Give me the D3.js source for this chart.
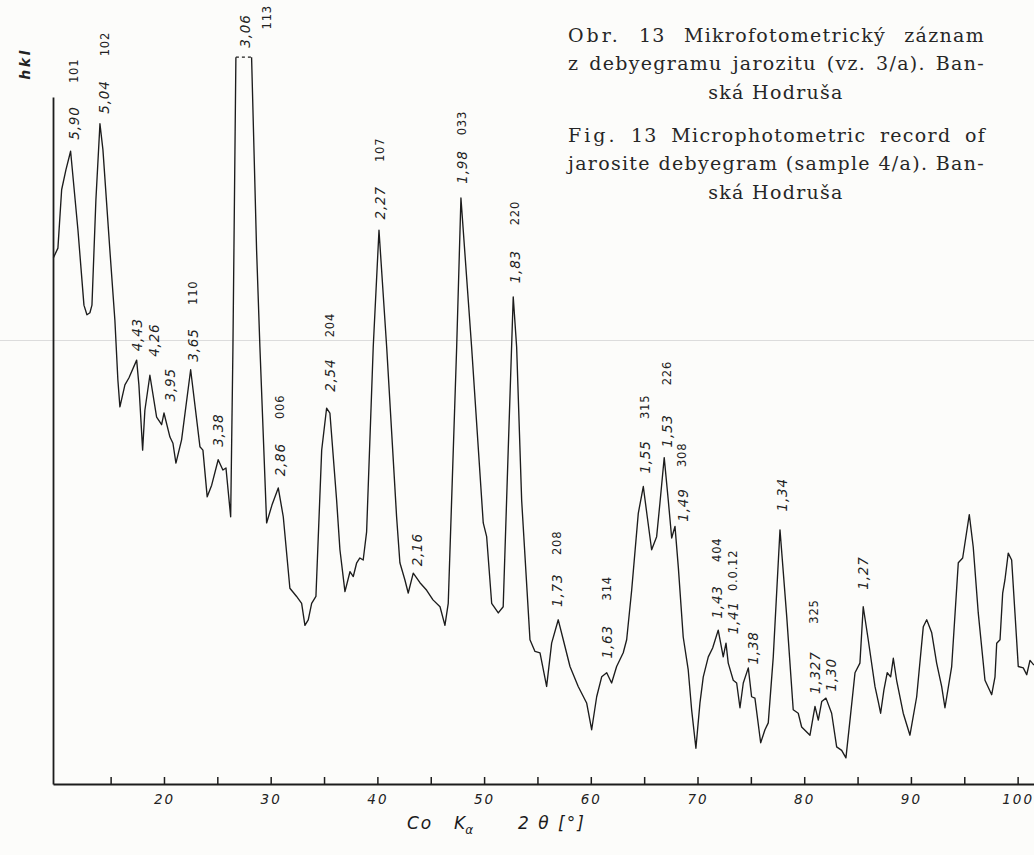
<!DOCTYPE html>
<html>
<head>
<meta charset="utf-8">
<script src="https://cdn.jsdelivr.net/npm/d3@7"></script>
<style>
  html, body { margin: 0; padding: 0; background: #fcfcfa; }
  svg { display: block; }
</style>
</head>
<body>
<svg id="chart" width="1034" height="855"></svg>
<script>
// ---- Data (read from the microphotometric record) ----
// 2θ positions (degrees, Co Kα)
const theta = [9.64,10.06,10.41,10.81,11.25,11.94,12.50,12.78,13.06,13.25,
  13.62,14.00,14.28,14.93,15.40,15.68,15.87,16.34,16.71,17.44,
  17.65,18.00,18.21,18.68,19.31,19.78,20.00,20.56,20.84,21.12,
  21.65,22.50,23.37,23.65,24.05,24.47,25.08,25.52,25.81,26.25,
  26.46,26.74,28.21,28.68,28.99,29.62,30.12,30.71,31.18,31.80,
  32.43,32.90,33.21,33.52,33.84,34.24,34.78,35.24,35.55,36.18,
  36.49,36.96,37.43,37.74,38.06,38.36,38.67,38.99,39.61,40.15,
  40.87,41.80,42.11,42.58,42.89,43.36,43.99,44.62,45.21,45.87,
  46.33,46.64,47.43,47.83,48.83,49.92,50.24,50.71,51.33,51.79,
  52.26,52.73,53.05,53.52,54.30,54.77,55.24,55.86,56.33,56.95,
  57.42,58.05,58.82,59.61,60.08,60.55,61.02,61.49,61.95,62.42,
  63.04,63.36,63.83,64.45,64.92,65.29,65.70,66.17,66.48,66.88,
  67.26,67.58,67.89,68.20,68.66,69.13,69.45,69.85,70.23,70.54,
  71.01,71.42,71.94,72.41,72.67,72.88,73.35,73.67,73.98,74.29,
  74.76,75.07,75.38,75.92,76.32,76.63,77.10,77.73,78.36,78.97,
  79.44,79.76,80.54,81.01,81.32,81.64,82.04,82.57,83.04,83.51,
  83.91,84.29,84.76,85.22,85.53,86.00,86.63,86.94,87.16,87.47,
  87.78,88.10,88.35,88.66,89.28,89.91,90.54,91.16,91.48,91.95,
  92.41,92.88,93.19,93.82,94.44,94.85,95.47,95.84,96.31,96.94,
  97.57,97.88,98.04,98.35,98.60,98.81,99.12,99.44,99.75,100.06,
  100.53,100.85,101.16,101.53];

// recorded blackening (arbitrary units)
const intensity = [76.6,78.0,86.5,89.4,92.1,80.6,69.7,68.3,68.6,69.7,
  85.0,96.1,92.3,77.7,67.5,58.8,54.9,58.1,59.1,61.7,
  58.1,48.6,54.4,59.5,53.4,52.3,54.0,50.5,49.6,46.7,
  50.1,60.3,49.1,48.6,41.8,43.5,47.2,45.7,46.0,38.9,
  63.2,105.8,105.8,77.7,63.6,38.0,40.6,43.1,38.9,28.5,
  27.3,26.3,23.1,23.9,26.3,27.3,48.6,54.7,54.0,41.3,
  34.1,28.0,30.9,30.2,32.2,32.9,32.6,36.7,63.6,80.6,
  63.6,38.9,32.2,29.7,27.8,30.7,29.3,28.2,26.8,25.8,
  23.1,26.3,63.6,85.3,63.6,38.0,36.0,26.3,24.9,25.8,
  48.6,70.9,63.6,41.3,21.0,19.3,19.1,14.2,20.5,23.9,
  21.0,17.1,14.2,11.8,7.9,12.7,15.6,16.2,14.7,17.1,
  19.1,21.0,28.2,39.4,43.3,38.9,34.1,36.0,40.9,47.5,
  41.3,35.8,37.5,31.6,21.4,16.6,10.8,5.2,11.8,15.6,
  18.5,19.8,22.4,18.5,20.5,17.6,15.1,14.7,11.1,14.7,
  16.9,12.7,12.5,6.0,7.9,8.9,18.5,37.0,24.4,10.8,
  10.3,8.3,7.1,11.3,9.3,12.0,12.5,10.3,5.4,4.9,
  3.8,9.3,16.2,17.6,25.8,21.0,14.2,12.0,10.3,13.7,
  16.2,15.6,18.3,15.1,10.3,7.1,12.7,22.9,23.9,22.0,
  17.6,14.2,11.1,17.1,32.2,32.9,39.2,34.5,24.9,15.1,
  13.0,15.6,20.5,21.0,27.8,29.7,33.6,32.6,24.9,17.1,
  16.9,15.9,18.0,17.3];

// level where the strongest reflection (3,06) runs off the record
const clipLevel = 105.8;

// x axis ticks
const tickValues = [15,20,25,30,35,40,45,50,55,60,65,70,75,80,85,90,95,100];
const tickLabels = [20,30,40,50,60,70,80,90,100];

// d-spacing annotations (Å): text, 2θ, label level
const dLabels = ["5,90","5,04","4,43","4,26","3,95","3,65","3,38","3,06","2,86","2,54","2,27","2,16","1,98","1,83","1,73","1,63","1,55","1,53","1,49","1,43","1,41","1,38","1,34","1,327","1,30","1,27"];
const dTheta  = [11.56,14.37,17.49,19.06,20.56,22.69,25.08,27.59,30.87,35.55,40.24,43.68,47.90,52.89,56.80,61.49,65.06,67.13,68.66,71.79,73.35,75.23,77.89,81.01,82.51,85.53];
const dLevel  = [96.2,100.0,65.4,64.6,58.1,63.9,51.5,109.6,47.2,59.5,84.6,34.1,89.8,75.3,28.2,20.7,47.6,51.4,40.6,26.5,24.2,19.8,42.1,16.2,15.9,30.7];

// hkl indices
const hklLabels = ["101","102","110","113","006","204","107","033","220","208","314","315","226","308","404","0.0.12","325"];
const hklTheta  = [11.56,14.47,22.74,29.65,30.87,35.55,40.24,47.90,52.89,56.80,61.49,65.06,67.13,68.56,71.79,73.35,80.92];
const hklLevel  = [103.8,107.7,71.5,111.6,54.9,66.8,92.3,96.2,83.1,35.1,28.5,54.9,59.8,47.9,34.1,31.1,25.1];

// caption
const captionCz = ["Obr. 13 Mikrofotometrický záznam", "z debyegramu jarozitu (vz. 3/a). Ban-", "ská Hodruša"];
const captionEn = ["Fig. 13 Microphotometric record of", "jarosite debyegram (sample 4/a). Ban-", "ská Hodruša"];

// ---- Drawing ----
const svg = d3.select("#chart");
const ink = "#1c1c1c";

const x = d3.scaleLinear().domain([9.6, 101.6]).range([53, 1034.7]);
const y = d3.scaleLinear().domain([0, 100]).range([784, 97]);

// faint scan crease
svg.append("line")
  .attr("x1", 0).attr("x2", 1034).attr("y1", 340.5).attr("y2", 340.5)
  .attr("stroke", "#dcdcdc").attr("stroke-width", 1);

// x axis
const xAxis = d3.axisBottom(x)
  .tickValues(tickValues)
  .tickSizeInner(-7)
  .tickSizeOuter(0)
  .tickPadding(10)
  .tickFormat(d => tickLabels.includes(d) ? String(d) : "");
const gx = svg.append("g").attr("transform", "translate(0,784)").call(xAxis);
gx.select(".domain").attr("stroke", ink).attr("stroke-width", 2);
gx.selectAll(".tick line").attr("stroke", ink).attr("stroke-width", 1.5);
gx.selectAll(".tick text")
  .attr("fill", "#222")
  .attr("font-family", "DejaVu Sans, sans-serif")
  .attr("font-style", "italic")
  .attr("font-size", 13.5)
  .attr("letter-spacing", 2)
  .attr("dx", 0);

// y axis (no ticks)
const yAxis = d3.axisLeft(y).tickValues([]).tickSizeOuter(0);
const gy = svg.append("g").attr("transform", "translate(53,0)").call(yAxis);
gy.select(".domain").attr("stroke", ink).attr("stroke-width", 1.8);

// curve
const pts = theta.map((t, i) => ({ t, v: intensity[i] }));
const clipIdx = pts.map((p, i) => p.v >= clipLevel ? i : -1).filter(i => i >= 0);
const firstClip = clipIdx[0], lastClip = clipIdx[clipIdx.length - 1];
const line = d3.line().x(d => x(d.t)).y(d => y(Math.min(d.v, clipLevel)));

svg.append("path")
  .datum(pts.slice(0, firstClip + 1))
  .attr("d", line)
  .attr("fill", "none").attr("stroke", ink).attr("stroke-width", 1.35)
  .attr("stroke-linejoin", "round");
svg.append("path")
  .datum(pts.slice(lastClip))
  .attr("d", line)
  .attr("fill", "none").attr("stroke", ink).attr("stroke-width", 1.35)
  .attr("stroke-linejoin", "round");
svg.append("path")
  .datum([pts[firstClip], pts[lastClip]])
  .attr("d", line)
  .attr("fill", "none").attr("stroke", ink).attr("stroke-width", 1.3)
  .attr("stroke-dasharray", "3,3");

// annotations
function rotLabels(texts, thetas, levels, size, italic) {
  svg.append("g").selectAll("text")
    .data(texts)
    .join("text")
    .attr("transform", (d, i) => `translate(${x(thetas[i])},${y(levels[i])}) rotate(-90)`)
    .attr("text-anchor", "middle")
    .attr("dominant-baseline", "central")
    .attr("font-family", "DejaVu Sans, sans-serif")
    .attr("font-style", italic ? "italic" : "normal")
    .attr("font-size", size)
    .attr("letter-spacing", 0.8)
    .attr("fill", "#222")
    .text(d => d);
}
rotLabels(dLabels, dTheta, dLevel, 13.5, true);
rotLabels(hklLabels, hklTheta, hklLevel, 11.5, false);

// "hkl" label
svg.append("text")
  .attr("transform", "translate(25,64) rotate(-90)")
  .attr("text-anchor", "middle").attr("dominant-baseline", "central")
  .attr("font-family", "DejaVu Sans, sans-serif")
  .attr("font-style", "italic").attr("font-weight", "bold")
  .attr("font-size", 14).attr("letter-spacing", 2.5)
  .attr("fill", "#222").text("hkl");

// axis title
const title = svg.append("g")
  .attr("font-family", "DejaVu Sans, sans-serif")
  .attr("font-style", "italic").attr("font-size", 17).attr("fill", "#1a1a1a");
title.append("text").attr("x", 407).attr("y", 829).attr("letter-spacing", 2).text("Co");
const k = title.append("text").attr("x", 454).attr("y", 829).text("K");
k.append("tspan").attr("dy", 5).attr("font-size", 12).text("α");
title.append("text").attr("x", 518).attr("y", 829).attr("letter-spacing", 2).text("2 θ [°]");

// caption (justified lines)
const cap = svg.append("g")
  .attr("font-family", "DejaVu Serif, Liberation Serif, serif")
  .attr("font-size", 19).attr("fill", "#262626")
  .attr("letter-spacing", 1.3);
function justify(str, x0, x1, base) {
  const words = str.split(" ");
  const els = words.map((w, i) => {
    const t = cap.append("text").attr("y", base).text(w);
    if (i === 0 && (w === "Obr." || w === "Fig.")) t.attr("letter-spacing", 3);
    return t;
  });
  const widths = els.map(e => e.node().getComputedTextLength());
  const gap = (x1 - x0 - d3.sum(widths)) / (words.length - 1);
  let cx = x0;
  els.forEach((e, i) => { e.attr("x", cx); cx += widths[i] + gap; });
}
function center(str, cx, base) {
  cap.append("text").attr("x", cx).attr("y", base).attr("text-anchor", "middle").text(str);
}
justify(captionCz[0], 568, 985, 41.5);
justify(captionCz[1], 568, 985, 70);
center(captionCz[2], 776, 98.5);
justify(captionEn[0], 568, 986, 141.5);
justify(captionEn[1], 568, 985, 170);
center(captionEn[2], 776, 198.5);
</script>
</body>
</html>
